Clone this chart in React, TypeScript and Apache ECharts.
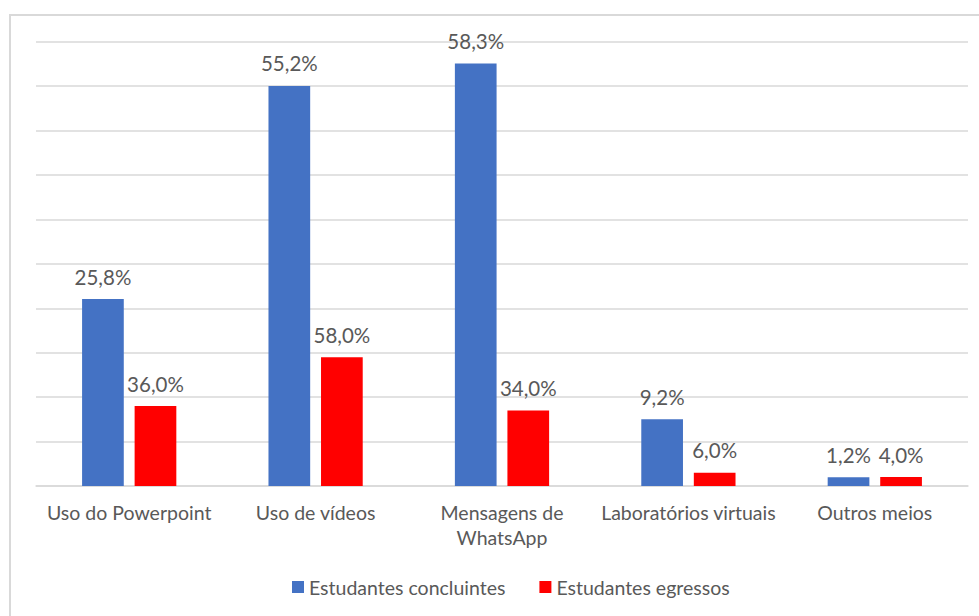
import React, { useEffect, useRef } from "react";
import * as echarts from "echarts";

const categories = [
  "Uso do Powerpoint",
  "Uso de vídeos",
  "Mensagens de\nWhatsApp",
  "Laboratórios virtuais",
  "Outros meios",
];
const seriesNames = ["Estudantes concluintes", "Estudantes egressos"];
const concluintes = [25.8, 55.2, 58.3, 9.2, 1.2];
const egressos = [36.0, 58.0, 34.0, 6.0, 4.0];

const FONT = "Lato";
const GREY = "#595959";

const fmt = (p: any) => p.value.toFixed(1).replace(".", ",") + "%";

export default function App() {
  const ref = useRef<HTMLDivElement>(null);
  useEffect(() => {
    const chart = echarts.init(ref.current!, null, { renderer: "svg" });
    chart.setOption({
      animation: false,
      backgroundColor: "#ffffff",
      textStyle: { fontFamily: FONT },
      graphic: [
        {
          type: "rect",
          shape: { x: 10, y: 15, width: 1100, height: 800 },
          style: { fill: "none", stroke: "#d9d9d9", lineWidth: 2 },
          silent: true,
        },
      ],
      grid: { left: 36, right: 11, top: 41.7, bottom: 130, containLabel: false },
      legend: {
        data: seriesNames,
        bottom: 14,
        left: 287,
        icon: "rect",
        itemWidth: 12,
        itemHeight: 12,
        itemGap: 34,
        textStyle: { color: GREY, fontSize: 19.5, fontFamily: FONT },
      },
      xAxis: {
        type: "category",
        data: categories,
        axisLine: { lineStyle: { color: "#d9d9d9", width: 1.5 } },
        axisTick: { show: false },
        axisLabel: {
          color: GREY,
          fontSize: 19.5,
          fontFamily: FONT,
          margin: 14,
          lineHeight: 25,
          interval: 0,
        },
      },
      yAxis: [
        {
          type: "value",
          min: 0,
          max: 61.3,
          interval: 6.13,
          axisLabel: { show: false },
          axisLine: { show: false },
          axisTick: { show: false },
          splitLine: { lineStyle: { color: "#d9d9d9", width: 1.5 } },
        },
        {
          type: "value",
          min: 0,
          max: 200,
          interval: 20,
          axisLabel: { show: false },
          axisLine: { show: false },
          axisTick: { show: false },
          splitLine: { show: false },
        },
      ],
      series: [
        {
          name: seriesNames[0],
          type: "bar",
          data: concluintes,
          yAxisIndex: 0,
          barWidth: 41.7,
          barGap: "26%",
          itemStyle: { color: "#4472C4" },
          label: {
            show: true,
            position: "top",
            distance: 12,
            color: GREY,
            fontSize: 20.5,
            fontFamily: FONT,
            formatter: fmt,
          },
        },
        {
          name: seriesNames[1],
          type: "bar",
          data: egressos,
          yAxisIndex: 1,
          barWidth: 41.7,
          barGap: "26%",
          itemStyle: { color: "#FF0000" },
          label: {
            show: true,
            position: "top",
            distance: 12,
            color: GREY,
            fontSize: 20.5,
            fontFamily: FONT,
            formatter: fmt,
          },
        },
      ],
    });
    return () => chart.dispose();
  }, []);
  return (
    <div
      ref={ref}
      style={{ position: "fixed", left: 0, top: 0, width: 979, height: 616 }}
    />
  );
}
